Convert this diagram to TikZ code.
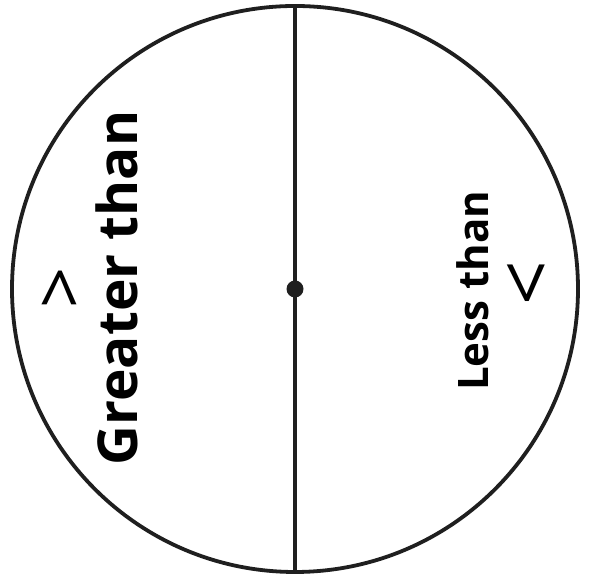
\documentclass[tikz,border=0pt]{standalone}
\usepackage{fontspec}
\setsansfont{Open Sans}
\usetikzlibrary{positioning}
\tikzset{
  dialline/.style={line width=3.8pt, draw=black!88},
  halflabel/.style={font=\sffamily\bfseries\fontsize{55}{60}\selectfont, rotate=90, inner sep=0pt},
  signglyph/.style={font=\sffamily\fontsize{72}{76}\selectfont, rotate=90, inner sep=0pt},
}
\begin{document}
\begin{tikzpicture}[x=1pt, y=1pt]
  \useasboundingbox (0,0) rectangle (590,577);

  \node[dialline, circle, minimum size=566pt, inner sep=0pt] (dial) at (295,288) {};
  \draw[dialline] (dial.north) -- (dial.south);
  \fill[black!88] (dial.center) circle (8.5pt);

  % --- left half ---
  \node[halflabel] (greater) at (117,289) {Greater than};
  \node[signglyph] (gtSign) at (64,289) {>};

  % --- right half ---
  \node[halflabel, font=\sffamily\bfseries\fontsize{42}{46}\selectfont] (less) at (473,286) {Less than};
  \node[signglyph, font=\sffamily\fontsize{78}{82}\selectfont] (ltSign) at (531,294) {<};
\end{tikzpicture}
\end{document}
